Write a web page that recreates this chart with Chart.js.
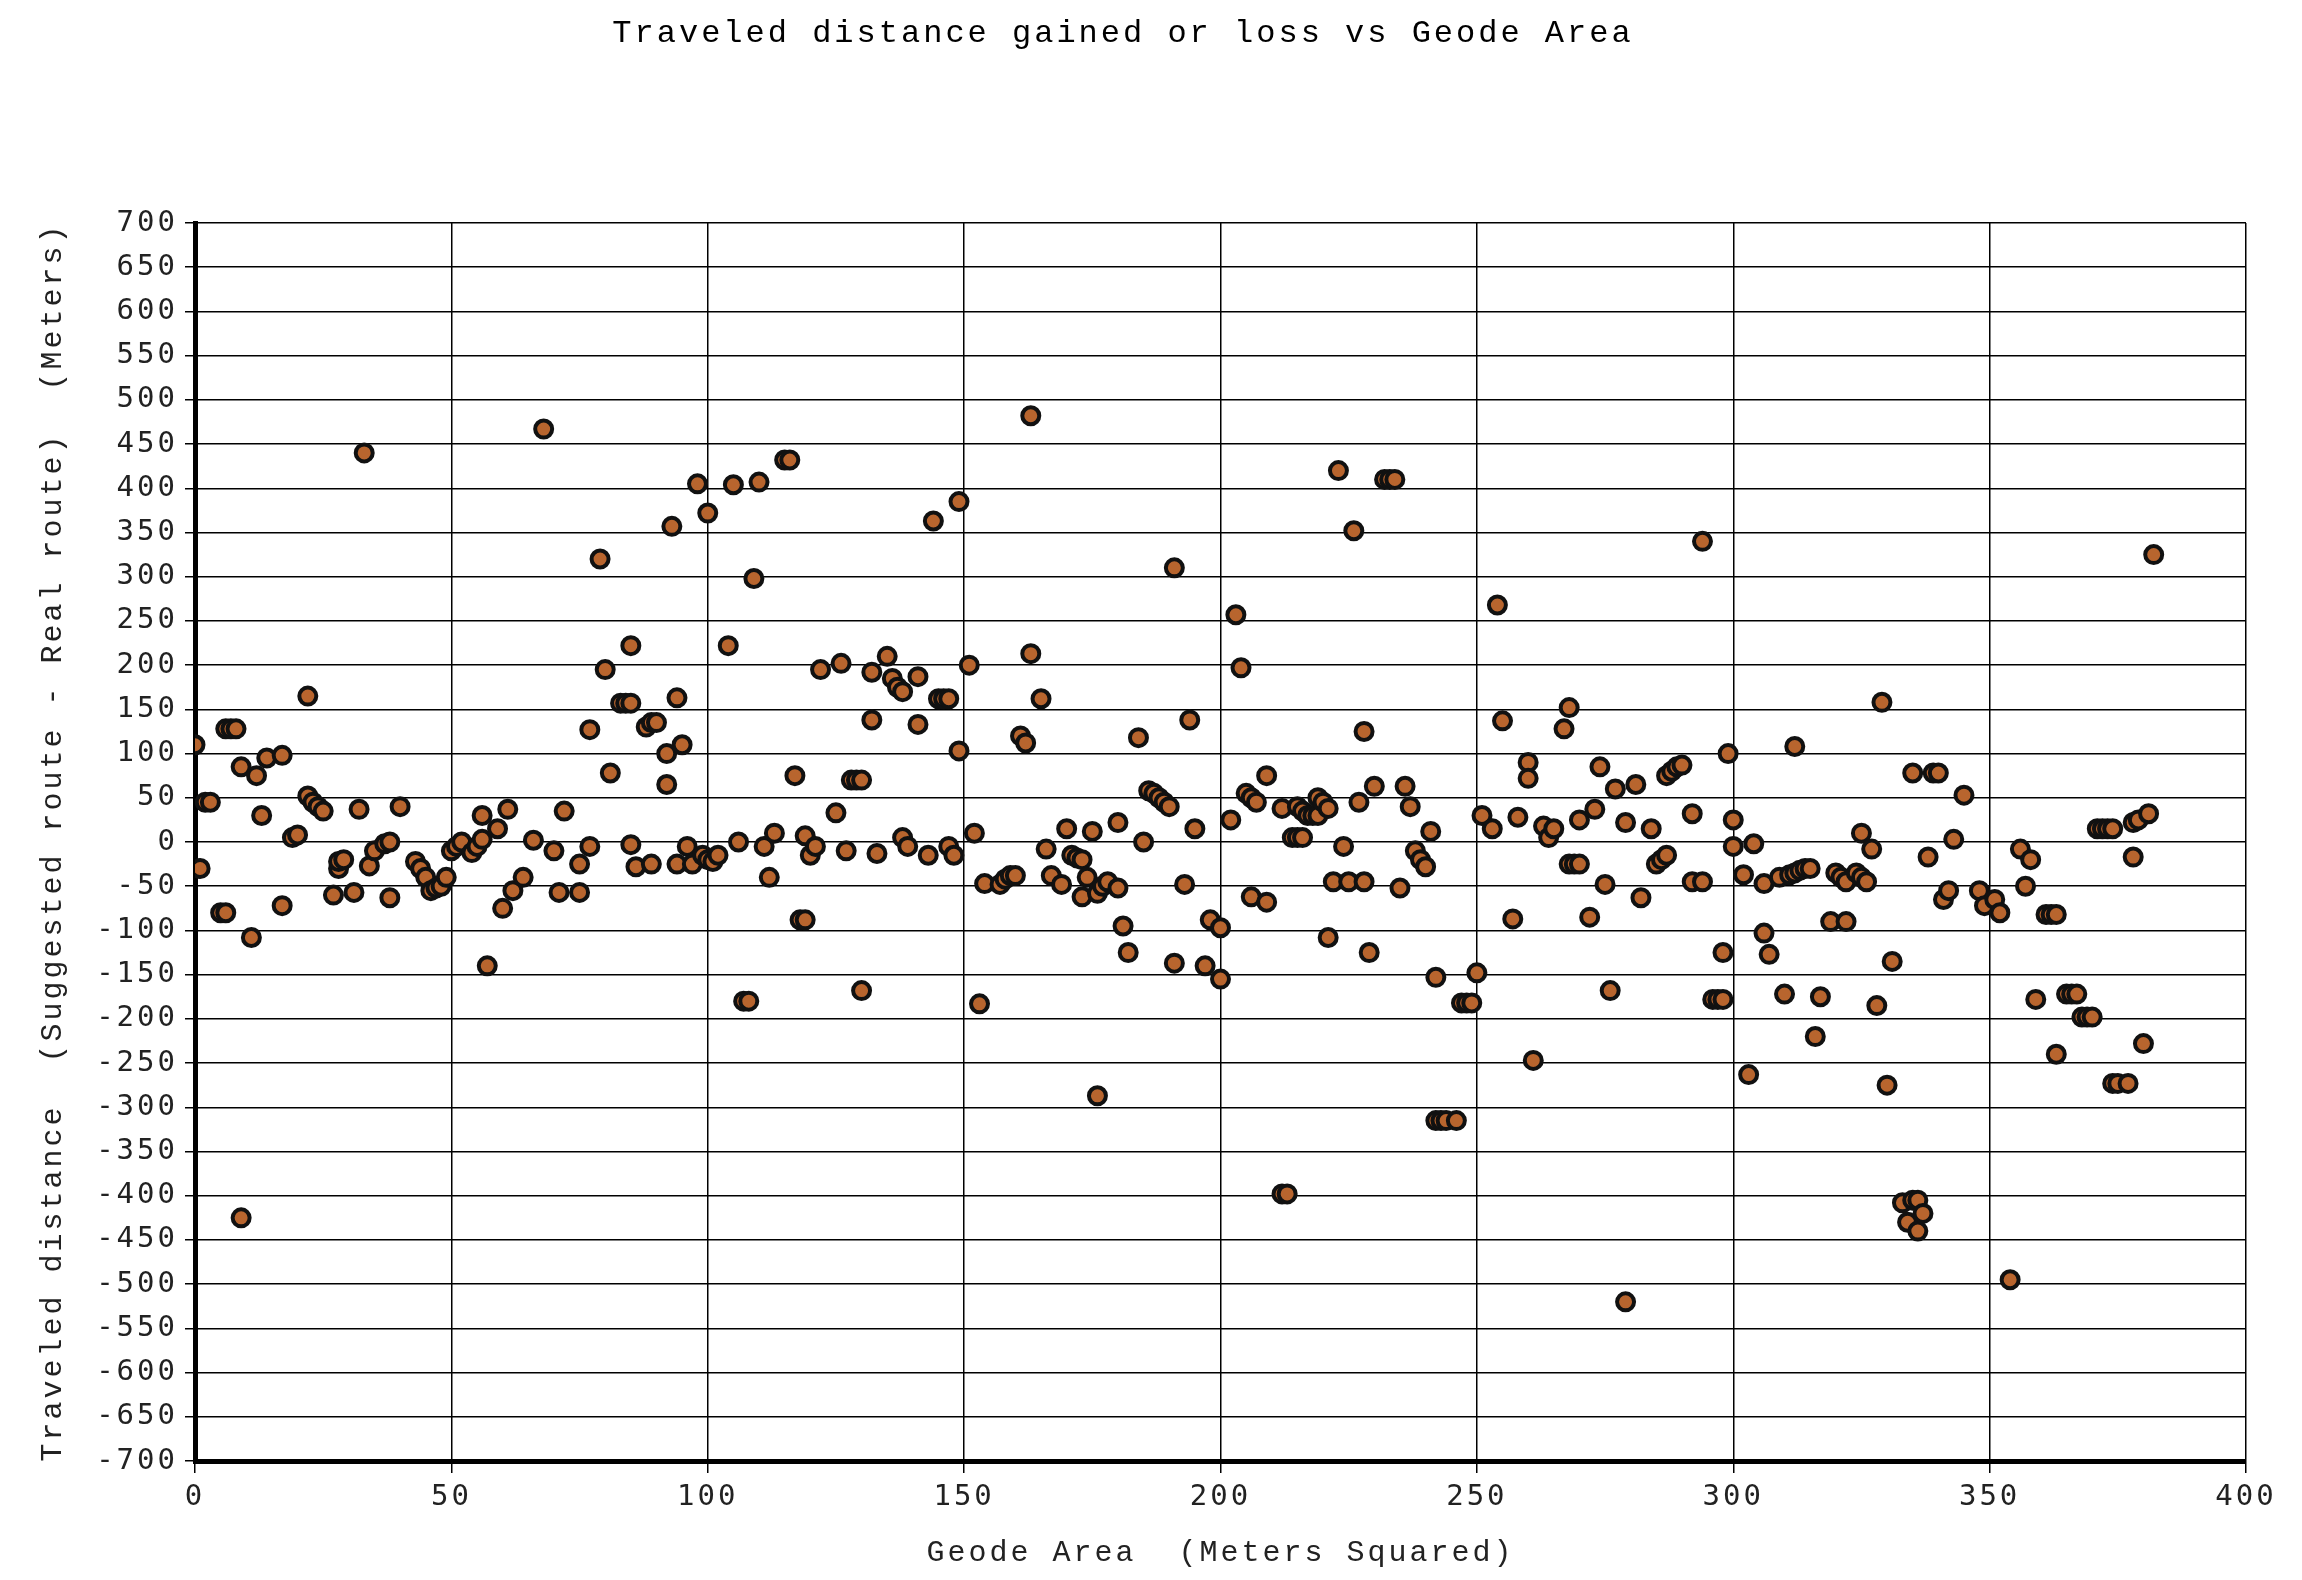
<!DOCTYPE html>
<html>
<head>
<meta charset="utf-8">
<script src="https://cdn.jsdelivr.net/npm/chart.js@4.4.1/dist/chart.umd.min.js"></script>
<style>
  html, body { margin: 0; padding: 0; background: #fff; }
</style>
</head>
<body>
<canvas id="geode" width="2302" height="1580"></canvas>
<script>
var chartTitle = "Traveled distance gained or loss vs Geode Area";
var xTitle = "Geode Area  (Meters Squared)";
var yTitle = "Traveled distance  (Suggested route - Real route)  (Meters)";

// geode area (m2)
var geodeArea = [
  0, 1, 2, 3, 5, 6, 6, 7, 8, 9, 9, 11, 12, 13, 14, 17, 17, 19, 20, 22,
  22, 23, 24, 25, 27, 28, 28, 29, 31, 32, 33, 34, 35, 37, 38, 38, 40, 43, 44, 45,
  46, 47, 48, 49, 50, 51, 52, 54, 55, 56, 56, 57, 59, 60, 61, 62, 64, 66, 68, 70,
  71, 72, 75, 75, 77, 77, 79, 80, 81, 83, 84, 85, 85, 85, 86, 88, 89, 90, 89, 92,
  92, 93, 94, 95, 94, 96, 97, 98, 99, 100, 100, 101, 102, 104, 105, 106, 107, 108, 109, 110,
  111, 112, 113, 115, 116, 117, 118, 119, 119, 120, 121, 122, 125, 126, 127, 128, 129, 130, 130, 132,
  132, 133, 135, 136, 137, 138, 138, 139, 141, 141, 143, 144, 145, 146, 147, 147, 148, 149, 149, 151,
  152, 153, 154, 157, 158, 159, 160, 161, 162, 163, 163, 165, 166, 167, 169, 170, 171, 172, 173, 173,
  174, 175, 176, 176, 177, 178, 180, 180, 181, 182, 184, 185, 186, 187, 188, 189, 190, 191, 191, 193,
  194, 195, 197, 198, 200, 200, 202, 203, 204, 205, 206, 207, 206, 209, 209, 212, 212, 213, 214, 215,
  216, 215, 216, 217, 218, 219, 219, 220, 221, 221, 222, 223, 224, 225, 226, 227, 228, 228, 229, 230,
  232, 233, 234, 235, 236, 237, 238, 239, 240, 241, 242, 242, 243, 244, 246, 247, 248, 249, 250, 251,
  253, 254, 255, 257, 258, 260, 260, 261, 263, 264, 265, 267, 268, 268, 269, 270, 270, 272, 273, 274,
  275, 276, 277, 279, 279, 281, 282, 284, 285, 286, 287, 287, 288, 289, 290, 292, 292, 294, 294, 296,
  297, 298, 298, 299, 300, 300, 302, 303, 304, 306, 306, 307, 309, 310, 311, 312, 312, 313, 314, 315,
  316, 317, 319, 320, 321, 322, 322, 324, 325, 326, 325, 327, 328, 329, 330, 331, 333, 334, 335, 336,
  336, 337, 335, 338, 339, 340, 341, 342, 343, 345, 348, 349, 351, 352, 354, 356, 357, 358, 359, 361,
  362, 363, 363, 365, 366, 367, 368, 369, 370, 371, 372, 373, 374, 374, 375, 377, 378, 378, 379, 380,
  381, 382
];

// suggested route minus real route (m)
var distanceGain = [
  110, -30, 45, 45, -80, -80, 128, 128, 128, 85, -425, -108, 75, 30, 95, 98, -72, 5, 8, 165,
  52, 45, 40, 35, -60, -30, -22, -20, -57, 37, 440, -27, -10, -2, 0, -63, 40, -22, -30, -40,
  -55, -52, -50, -40, -10, -5, 0, -12, -5, 30, 3, -140, 15, -75, 37, -55, -40, 2, 467, -10,
  -57, 35, -25, -57, -5, 127, 320, 195, 78, 157, 157, 157, 222, -3, -28, 130, 135, 135, -25, 100,
  65, 357, 163, 110, -25, -5, -25, 405, -15, 372, -20, -22, -15, 222, 404, 0, -180, -180, 298, 407,
  -5, -40, 10, 432, 432, 75, -88, -88, 7, -15, -5, 195, 33, 202, -10, 70, 70, 70, -168, 138,
  192, -13, 210, 185, 175, 170, 5, -5, 133, 187, -15, 363, 162, 162, 162, -5, -15, 385, 103, 200,
  10, -183, -47, -48, -42, -38, -38, 120, 112, 213, 482, 162, -8, -38, -48, 15, -15, -18, -20, -62,
  -40, 12, -287, -58, -50, -45, -52, 22, -95, -125, 118, 0, 58, 55, 50, 45, 40, -137, 310, -48,
  138, 15, -140, -88, -155, -97, 25, 257, 197, 55, 50, 45, -62, 75, -68, 38, -398, -398, 5, 5,
  5, 40, 35, 30, 30, 30, 50, 45, 38, -108, -45, 420, -5, -45, 352, 45, -45, 125, -125, 63,
  410, 410, 410, -52, 63, 40, -10, -20, -28, 12, -153, -315, -315, -315, -315, -182, -182, -182, -148, 30,
  15, 268, 137, -87, 28, 90, 72, -247, 18, 5, 15, 128, 152, -25, -25, -25, 25, -85, 37, 85,
  -48, -168, 60, -520, 22, 65, -63, 15, -25, -20, -15, 75, 80, 85, 87, 32, -45, -45, 340, -178,
  -178, -178, -125, 100, 25, -5, -37, -263, -2, -103, -47, -127, -40, -172, -37, -35, 108, -32, -30, -30,
  -220, -175, -90, -35, -40, -45, -90, -35, -40, -45, 10, -8, -185, 158, -275, -135, -408, -430, -405, -405,
  -440, -420, 78, -17, 78, 78, -65, -55, 3, 53, -55, -72, -65, -80, -495, -8, -50, -20, -178, -82,
  -82, -82, -240, -172, -172, -172, -198, -198, -198, 15, 15, 15, 15, -273, -273, -273, -17, 22, 25, -228,
  32, 325
];

var points = geodeArea.map(function (a, i) {
  return { x: a, y: distanceGain[i] };
});

// wider glyph spacing like the original rendering
var spacing = {
  id: "spacing",
  beforeLayout: function (chart) { chart.ctx.letterSpacing = "3px"; },
  beforeDraw: function (chart) { chart.ctx.letterSpacing = "3px"; }
};

new Chart("geode", {
  type: "scatter",
  data: {
    datasets: [{
      data: points,
      backgroundColor: "#b8652e",
      borderColor: "#111",
      borderWidth: 4,
      pointRadius: 8.5,
      pointHoverRadius: 8.5
    }]
  },
  plugins: [spacing],
  options: {
    responsive: false,
    animation: false,
    layout: { padding: { left: 0, right: 56, top: 0, bottom: 0 } },
    plugins: {
      legend: { display: false },
      tooltip: { enabled: false },
      title: {
        display: true,
        text: chartTitle,
        color: "#000",
        font: { family: "Liberation Mono", size: 32, weight: "normal" },
        padding: { top: 14, bottom: 223 - 14 - 38.4 }
      }
    },
    scales: {
      x: {
        type: "linear",
        min: 0,
        max: 400,
        afterFit: function (s) { s.height = 1580 - 1461; },
        ticks: {
          stepSize: 50,
          color: "#222",
          padding: 7,
          font: { family: "DejaVu Sans Mono", size: 29 }
        },
        grid: { color: "#000", lineWidth: 1.5, tickLength: 12 },
        border: { color: "#000", width: 5 },
        title: {
          display: true,
          text: xTitle,
          color: "#222",
          font: { family: "Liberation Mono", size: 30 },
          padding: { top: 0, bottom: 9 }
        }
      },
      y: {
        type: "linear",
        min: -700,
        max: 700,
        afterFit: function (s) { s.width = 195; },
        ticks: {
          stepSize: 50,
          autoSkip: false,
          color: "#222",
          padding: 7,
          font: { family: "DejaVu Sans Mono", size: 29 }
        },
        grid: { color: "#000", lineWidth: 1.5, tickLength: 10 },
        border: { color: "#000", width: 5 },
        title: {
          display: true,
          text: yTitle,
          color: "#222",
          font: { family: "Liberation Mono", size: 30 },
          padding: { top: 35, bottom: 0 }
        }
      }
    }
  }
});
</script>
</body>
</html>
